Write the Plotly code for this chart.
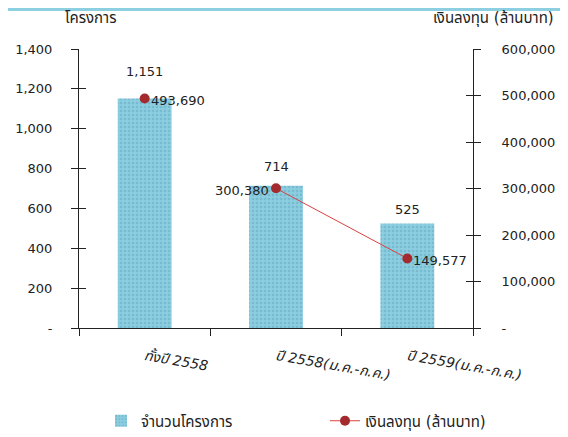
import plotly.graph_objects as go

categories = ["ทั้งปี 2558", "ปี 2558(ม.ค.-ก.ค.)", "ปี 2559(ม.ค.-ก.ค.)"]
projects = [1151, 714, 525]
investment = [493690, 300380, 149577]

left_ticks = [0, 200, 400, 600, 800, 1000, 1200, 1400]
left_ticktext = ["-", "200", "400", "600", "800", "1,000", "1,200", "1,400"]
right_ticks = [0, 100000, 200000, 300000, 400000, 500000, 600000]
right_ticktext = ["-", "100,000", "200,000", "300,000", "400,000", "500,000", "600,000"]

bar_name = "จำนวนโครงการ"
line_name = "เงินลงทุน (ล้านบาท)"
left_title = "โครงการ"
right_title = "เงินลงทุน (ล้านบาท)"

FONT = "Tahoma, 'DejaVu Sans', 'Noto Sans Thai', sans-serif"
OFF = 8  # page body margin
W, H = 568 - OFF, 437 - OFF
L, T = 79 - OFF, 49 - OFF
R, B = W - (473 - OFF), H - (328 - OFF)
pw, ph = W - L - R, H - T - B


def px(page_x):
    return (page_x - 79) / pw


def py(page_y):
    return 1 - (page_y - 49) / ph


fig = go.Figure()
fig.add_trace(go.Bar(
    x=categories, y=projects, name=bar_name, width=0.41,
    marker=dict(color="#86c8d9", line=dict(width=0),
                pattern=dict(shape=".", fgcolor="#5fa9bf", bgcolor="#8ccde0", size=4, solidity=0.35)),
    yaxis="y", hoverinfo="skip", legend="legend",
))
# first point is shown as a marker only (no connecting line to the next one)
fig.add_trace(go.Scatter(
    x=categories[:1], y=investment[:1], name=line_name, mode="markers",
    marker=dict(color="#a32b2e", size=10, line=dict(width=0)),
    yaxis="y2", hoverinfo="skip", showlegend=False,
))
fig.add_trace(go.Scatter(
    x=categories[1:], y=investment[1:], name=line_name, mode="lines+markers",
    line=dict(color="#d9423f", width=1),
    marker=dict(color="#a32b2e", size=10, line=dict(width=0)),
    yaxis="y2", hoverinfo="skip", legend="legend2",
))

ann = []
bar_offsets = [27, 19, 14]
for c, v, off in zip(categories, projects, bar_offsets):
    ann.append(dict(x=c, y=v, xref="x", yref="y", text=f"{v:,}", showarrow=False,
                    yshift=off, font=dict(size=13, color="#222", family=FONT)))
line_sides = ["right", "left", "right"]
for c, v, side in zip(categories, investment, line_sides):
    ann.append(dict(x=c, y=v, xref="x", yref="y2", text=f"{v:,}", showarrow=False,
                    xanchor="left" if side == "right" else "right",
                    xshift=4 if side == "right" else -5, yshift=-2,
                    font=dict(size=13, color="#222", family=FONT)))
ann.append(dict(x=px(63), y=py(18), xref="paper", yref="paper",
                text=left_title, showarrow=False, xanchor="left", yanchor="middle",
                font=dict(size=15, color="#222", family=FONT)))
ann.append(dict(x=px(556), y=py(18), xref="paper", yref="paper",
                text=right_title, showarrow=False, xanchor="right", yanchor="middle",
                font=dict(size=15, color="#222", family=FONT)))

axis_common = dict(showgrid=False, zeroline=False, linecolor="#222", linewidth=1,
                   tickcolor="#222", ticklen=7, tickwidth=1)

fig.update_layout(
    width=W, height=H,
    margin=dict(l=L, r=R, t=T, b=B, pad=0, autoexpand=False),
    paper_bgcolor="white", plot_bgcolor="white",
    font=dict(family=FONT, size=13, color="#222"),
    xaxis=dict(type="category", showline=True, ticks="outside", tickson="boundaries",
               linecolor="#222", tickcolor="#222", ticklen=7, showgrid=False,
               tickangle=10, ticklabelstandoff=14, automargin=False,
               tickfont=dict(size=14, style="italic", family=FONT)),
    yaxis=dict(range=[0, 1400], tickvals=left_ticks, ticktext=left_ticktext, automargin=False,
               showline=True, ticks="outside", ticklabelstandoff=16, **axis_common),
    yaxis2=dict(range=[0, 600000], tickvals=right_ticks, ticktext=right_ticktext,
                overlaying="y", side="right", showline=True, ticks="outside", automargin=False,
                ticklabelstandoff=18, **axis_common),
    yaxis3=dict(range=[0, 1400], tickvals=left_ticks, overlaying="y", side="left",
                showticklabels=False, showline=False, ticks="inside", **axis_common),
    yaxis4=dict(range=[0, 600000], tickvals=right_ticks, overlaying="y", side="right",
                showticklabels=False, showline=False, ticks="inside", **axis_common),
    legend=dict(orientation="h", x=px(101), y=py(421), xanchor="left", yanchor="middle",
                font=dict(size=15, family=FONT), bgcolor="rgba(0,0,0,0)"),
    legend2=dict(orientation="h", x=px(325), y=py(421), xanchor="left", yanchor="middle",
                 font=dict(size=15, family=FONT), bgcolor="rgba(0,0,0,0)"),
    annotations=ann,
    shapes=[dict(type="rect", xref="paper", yref="paper", x0=-L / pw, x1=(W - L) / pw,
                 y0=1 + (T - 3) / ph, y1=1 + T / ph, fillcolor="#8ccfe0", line=dict(width=0))],
    showlegend=True,
)
# invisible traces to activate the crossing-tick overlay axes
fig.add_trace(go.Scatter(x=[categories[0]], y=[0], yaxis="y3", mode="markers",
                         marker=dict(opacity=0), showlegend=False, hoverinfo="skip"))
fig.add_trace(go.Scatter(x=[categories[0]], y=[0], yaxis="y4", mode="markers",
                         marker=dict(opacity=0), showlegend=False, hoverinfo="skip"))

fig.write_html("out.html")
